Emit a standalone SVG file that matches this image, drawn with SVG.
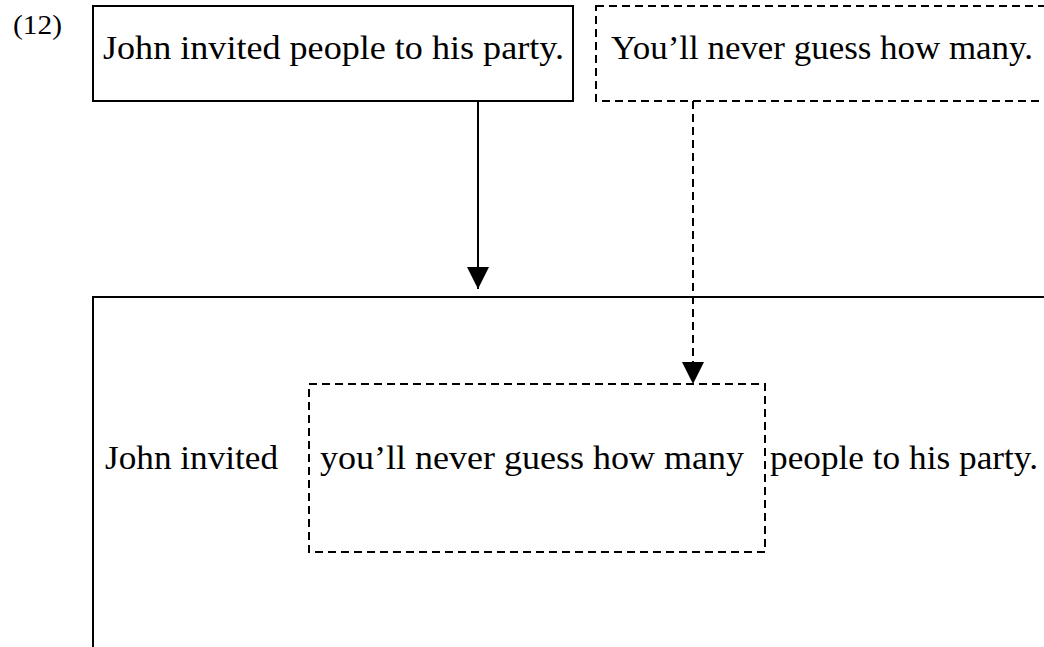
<svg xmlns="http://www.w3.org/2000/svg" width="1044" height="647" viewBox="0 0 1044 647">
  <style>
    .t { font-family: "Liberation Serif", "Times New Roman", serif; font-size: 33px; fill: #000; }
    .solid { fill: none; stroke: #000; stroke-width: 2; }
    .dash { fill: none; stroke: #000; stroke-width: 2; stroke-dasharray: 8 5; }
  </style>
  <defs>
    <marker id="ah" viewBox="0 0 22 22" refX="22" refY="11" markerWidth="22" markerHeight="22" markerUnits="userSpaceOnUse" orient="auto">
      <path d="M0,0 L22,11 L0,22 z" fill="#000"/>
    </marker>
  </defs>
  <rect width="1044" height="647" fill="#fff"/>
  <text id="label" class="t" x="13" y="34" style="font-size:27px" textLength="49" lengthAdjust="spacingAndGlyphs">(12)</text>

  <g id="node-source1">
    <rect class="solid" x="93" y="6" width="480" height="95"/>
    <text class="t" x="103" y="59" textLength="461" lengthAdjust="spacingAndGlyphs">John invited people to his party.</text>
  </g>
  <g id="node-source2">
    <rect class="dash" x="596" y="6" width="460" height="95"/>
    <text class="t" x="611" y="59" textLength="422" lengthAdjust="spacingAndGlyphs">You’ll never guess how many.</text>
  </g>
  <g id="node-blend">
    <rect class="solid" x="93" y="297" width="980" height="400"/>
    <text class="t" x="105" y="469" textLength="173" lengthAdjust="spacingAndGlyphs">John invited</text>
    <text class="t" x="770" y="469" textLength="268" lengthAdjust="spacingAndGlyphs">people to his party.</text>
  </g>
  <g id="node-inserted">
    <rect class="dash" x="309" y="384" width="456" height="168"/>
    <text class="t" x="320" y="469" textLength="424" lengthAdjust="spacingAndGlyphs">you’ll never guess how many</text>
  </g>

  <g id="connectors">
    <line class="solid" x1="478" y1="101" x2="478" y2="289" marker-end="url(#ah)"/>
    <line class="dash" x1="693" y1="101" x2="693" y2="384" marker-end="url(#ah)"/>
  </g>
</svg>
